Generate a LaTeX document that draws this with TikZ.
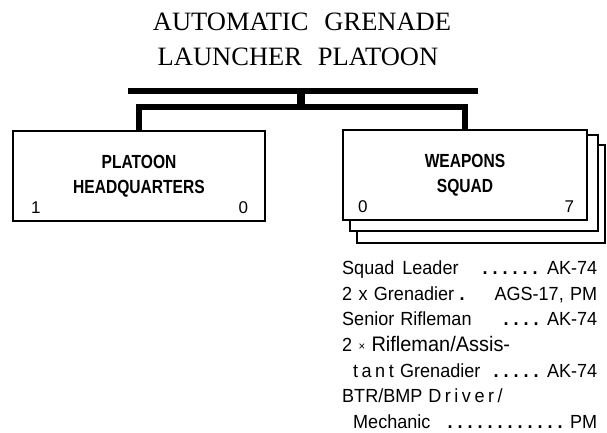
\documentclass[tikz,border=0pt]{standalone}
\usepackage{fontspec}
\setmainfont{Liberation Serif}
\setsansfont{Liberation Sans}
\newfontfamily\boxfont[FakeStretch=0.82]{Liberation Sans}
\newfontfamily\listfont[FakeStretch=0.95]{Liberation Sans}
\usetikzlibrary{positioning,backgrounds}

\newcommand\dotrun[1]{\hbox to #1{\cleaders\hbox to 10pt{\hss\textbf{.}\hss}\hfill}}
\newcommand\ls{\hspace{3.5pt}}

\tikzset{
	title/.style={font=\rmfamily\fontsize{26.5}{30}\selectfont,inner sep=0pt,anchor=base},
	unitbox/.style={draw,line width=2.4pt,fill=white,minimum height=90pt,align=center,
		font=\boxfont\bfseries\fontsize{19}{25}\selectfont},
	layerbox/.style={draw,line width=2.4pt,fill=white},
	strength/.style={font=\sffamily\fontsize{17}{20}\selectfont,inner sep=0pt,anchor=base west},
	listline/.style={font=\listfont\fontsize{19}{20}\selectfont,inner sep=0pt,anchor=base west,
		text width=255pt,align=left},
	bar/.style={line width=5.5pt},
	stem/.style={line width=8pt}
}

\begin{document}
\begin{tikzpicture}[x=1pt,y=-1pt]
	\useasboundingbox (0,0) rectangle (607,432);

	% title
	\node[title] (t1) at (302,30) {AUTOMATIC\hspace{16pt}GRENADE};
	\node[title] (t2) at (298,65) {LAUNCHER\hspace{16pt}PLATOON};

	% units
	\node[unitbox,minimum width=252pt] (hq) at (139,176) {PLATOON\\HEADQUARTERS};
	\node[unitbox,minimum width=244pt] (wpn) at (465,175) {WEAPONS\\SQUAD};
	\begin{scope}[on background layer]
		\draw[layerbox] ([shift={(15,16)}]wpn.north west) rectangle ([shift={(17,22)}]wpn.south east);
		\draw[layerbox] ([shift={(8,6)}]wpn.north west) rectangle ([shift={(10,10)}]wpn.south east);
	\end{scope}

	\node[strength] (hqoff) at ([shift={(19,-9)}]hq.south west) {1};
	\node[strength,anchor=base east] (hqmen) at ([shift={(-18,-9)}]hq.south east) {0};
	\node[strength] (wpnoff) at ([shift={(16,-9)}]wpn.south west) {0};
	\node[strength,anchor=base east] (wpnmen) at ([shift={(-14,-9)}]wpn.south east) {7};

	% lines
	\coordinate (barL) at (128,91);
	\coordinate (barR) at (478,91);
	\coordinate (tee) at (301,91);
	\coordinate (link) at (301,107);
	\draw[bar] (barL) -- (barR);
	\draw[stem] (tee) -- (link);
	\draw[bar,line width=6pt] (hq.north) -- (hq.north |- link) -- (wpn.north |- link) -- (wpn.north);

	% squad members
	\node[listline] (sqldr) at (342,274) {Squad\hspace{8pt}Leader\hfill\dotrun{62pt}\hspace{6pt}AK-74};
	\node[listline] (gren) at (342,300) {2 x Grenadier\hfill\textbf{.}\hspace{30pt}AGS-17,\ PM\hspace{2pt}};
	\node[listline] (srrif) at (342,325.5) {Senior\hspace{6pt}Rifleman\hfill\dotrun{40pt}\hspace{6pt}AK-74};
	\node[listline] (rif) at (342,351) {2 {\fontsize{12}{14}\selectfont\raisebox{1pt}{×}} {\fontsize{21}{22}\selectfont Rifleman/Assis-}};
	\node[listline] (rif2) at (342,377) {\hspace{11pt}t\ls a\ls n\ls t Grenadier\hfill\dotrun{50pt}\hspace{6pt}AK-74};
	\node[listline] (drv) at (342,402) {BTR/BMP\hspace{6pt}D\ls r\ls i\ls v\ls e\ls r\ls /};
	\node[listline] (drv2) at (342,428) {\hspace{11pt}Mechanic\hfill\dotrun{120pt}\hspace{5pt}PM};
\end{tikzpicture}
\end{document}
